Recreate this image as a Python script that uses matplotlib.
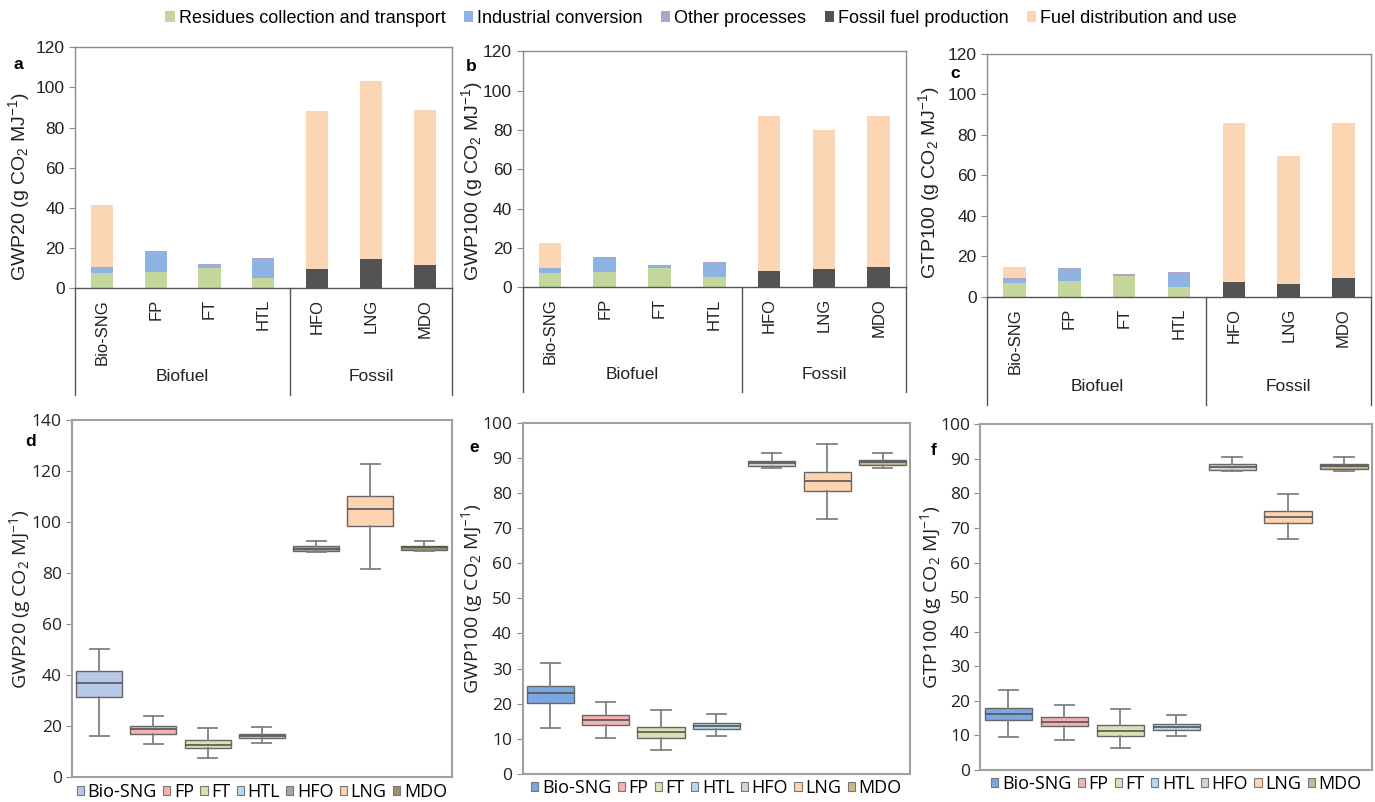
import numpy as np
import matplotlib
matplotlib.use('Agg')
import matplotlib.pyplot as plt
from matplotlib.patches import Patch

plt.rcParams['font.family'] = ['Liberation Sans', 'DejaVu Sans']

# ------------------------------------------------------------
# Data
# ------------------------------------------------------------
cats = ['Bio-SNG', 'FP', 'FT', 'HTL', 'HFO', 'LNG', 'MDO']
stages = ['Residues collection and transport', 'Industrial conversion',
          'Other processes', 'Fossil fuel production', 'Fuel distribution and use']
stage_colors = ['#c3d69b', '#8db3e2', '#b3a2c7', '#535353', '#fcd5b5']

# panel a : GWP20
gwp20_residues   = [7.5, 8.0, 10.0, 5.0, 0, 0, 0]
gwp20_conversion = [2.8, 10.0, 1.5, 9.5, 0, 0, 0]
gwp20_other      = [0.3, 0.3, 0.5, 0.3, 0, 0, 0]
gwp20_fossil     = [0, 0, 0, 0, 9.5, 14.2, 11.5]
gwp20_use        = [30.9, 0, 0, 0, 78.5, 88.8, 77.0]
# panel b : GWP100
gwp100_residues   = [7.0, 7.5, 9.8, 5.0, 0, 0, 0]
gwp100_conversion = [2.5, 7.3, 1.0, 7.3, 0, 0, 0]
gwp100_other      = [0.3, 0.4, 0.4, 0.4, 0, 0, 0]
gwp100_fossil     = [0, 0, 0, 0, 8.0, 9.0, 10.0]
gwp100_use        = [12.7, 0, 0, 0, 79.0, 71.0, 77.0]
# panel c : GTP100
gtp100_residues   = [7.0, 8.0, 10.0, 5.0, 0, 0, 0]
gtp100_conversion = [2.0, 5.5, 0.5, 6.5, 0, 0, 0]
gtp100_other      = [0.3, 0.5, 0.5, 0.5, 0, 0, 0]
gtp100_fossil     = [0, 0, 0, 0, 7.5, 6.5, 9.5]
gtp100_use        = [5.2, 0, 0, 0, 78.5, 63.0, 76.5]

# box plots: whisker low, Q1, median, Q3, whisker high
gwp20_box = [[16.0, 31.4, 36.9, 41.6, 50.4],
             [13.1, 17.0, 18.8, 20.1, 24.1],
             [7.6, 11.3, 12.8, 14.7, 19.4],
             [13.3, 15.2, 16.0, 17.0, 19.8],
             [88.4, 88.8, 89.6, 90.7, 92.8],
             [81.5, 98.5, 105.3, 110.3, 122.7],
             [88.6, 89.2, 90.1, 90.8, 92.8]]
gwp100_box = [[13.0, 20.2, 22.9, 25.1, 31.7],
              [10.1, 13.9, 15.4, 16.8, 20.6],
              [6.9, 10.3, 11.8, 13.5, 18.2],
              [10.9, 12.8, 13.7, 14.6, 17.2],
              [87.1, 87.7, 88.5, 89.1, 91.5],
              [72.7, 80.5, 83.3, 86.0, 93.9],
              [87.2, 87.9, 88.9, 89.5, 91.4]]
gtp100_box = [[9.5, 14.4, 16.3, 17.9, 23.0],
              [8.8, 12.6, 13.8, 15.3, 18.9],
              [6.4, 9.7, 11.2, 12.9, 17.5],
              [9.7, 11.5, 12.4, 13.3, 16.0],
              [86.4, 86.9, 87.7, 88.4, 90.6],
              [66.7, 71.5, 73.3, 74.9, 79.8],
              [86.5, 87.0, 87.9, 88.6, 90.5]]

box_colors_d = ['#b7c9e6', '#f4b3b0', '#d9e2b3', '#b4d9ef', '#a6a6a6', '#fdd3b0', '#9c8f6a']
box_colors_ef = ['#7da7e0', '#f4b3b0', '#d9e2b3', '#b4d9ef', '#d4d4d4', '#fdd3b0', '#c9b88a']

bot_font = 'Open Sans'
spine_col = '#8c8c8c'

fig = plt.figure(figsize=(13.75, 8.02), dpi=100)

# ------------------------------------------------------------
# Top row: stacked bars
# ------------------------------------------------------------
top_pos = [[0.0545, 0.641, 0.274, 0.300],
           [0.380, 0.642, 0.279, 0.294],
           [0.718, 0.630, 0.279, 0.303]]
top_data = [[gwp20_residues, gwp20_conversion, gwp20_other, gwp20_fossil, gwp20_use],
            [gwp100_residues, gwp100_conversion, gwp100_other, gwp100_fossil, gwp100_use],
            [gtp100_residues, gtp100_conversion, gtp100_other, gtp100_fossil, gtp100_use]]
ylabels = [r'GWP20 (g CO$\mathregular{_2}$ MJ$\mathregular{^{-1}}$)',
           r'GWP100 (g CO$\mathregular{_2}$ MJ$\mathregular{^{-1}}$)',
           r'GTP100 (g CO$\mathregular{_2}$ MJ$\mathregular{^{-1}}$)']
top_letters = ['a', 'b', 'c']
letter_xy_top = [(-0.15, 0.93), (-0.135, 0.935), (-0.083, 0.92)]
ylab_xy_top = [(-0.114, 0.42), (-0.097, 0.45), (-0.117, 0.47)]

x = np.arange(len(cats))
for i in range(3):
    ax = fig.add_axes(top_pos[i])
    bottom = np.zeros(len(cats))
    for vals, col in zip(top_data[i], stage_colors):
        ax.bar(x, vals, width=0.41, bottom=bottom, color=col, edgecolor='none')
        bottom += np.array(vals)
    ax.set_xlim(-0.5, 6.5)
    ax.set_ylim(0, 120)
    ax.set_yticks(np.arange(0, 121, 20))
    ax.set_xticks(x)
    ax.set_xticklabels(cats, rotation=90, va='top', ha='center',
                       fontsize=12, color='#222222')
    ax.tick_params(axis='x', length=0, pad=8)
    ax.tick_params(axis='y', labelsize=12.5, length=4, color=spine_col, labelcolor='#222222')
    for s in ax.spines.values():
        s.set_color(spine_col)
        s.set_linewidth(1.0)
    ax.spines['bottom'].set_color('#555555')
    ax.set_ylabel(ylabels[i], fontsize=14, color='#222222')
    ax.yaxis.set_label_coords(*ylab_xy_top[i])
    # group frame below the axis
    low = -0.445
    tr = ax.get_xaxis_transform()
    for xv in [-0.5, 3.5, 6.5]:
        ax.plot([xv, xv], [0, low], transform=tr, color='#555555', lw=1.0, clip_on=False)
    ax.text(1.5, -0.37, 'Biofuel', transform=tr, ha='center', va='center',
            fontsize=12.5, color='#222222')
    ax.text(5.0, -0.37, 'Fossil', transform=tr, ha='center', va='center',
            fontsize=12.5, color='#222222')
    ax.text(letter_xy_top[i][0], letter_xy_top[i][1], top_letters[i], transform=ax.transAxes,
            fontsize=12.5, fontweight='bold', ha='center', va='center')

handles = [Patch(facecolor=c, edgecolor='none', label=l) for c, l in zip(stage_colors, stages)]
fig.legend(handles=handles, loc='center', bbox_to_anchor=(0.51, 0.977), ncol=5,
           frameon=False, handlelength=0.5, handleheight=0.5, handletextpad=0.25,
           columnspacing=1.0, prop={'size': 13})

# ------------------------------------------------------------
# Bottom row: box plots
# ------------------------------------------------------------
bot_pos = [[0.0524, 0.031, 0.276, 0.445],
           [0.380, 0.035, 0.282, 0.438],
           [0.713, 0.040, 0.285, 0.431]]
bot_data = [gwp20_box, gwp100_box, gtp100_box]
bot_colors = [box_colors_d, box_colors_ef, box_colors_ef]
bot_ylim = [140, 100, 100]
bot_step = [20, 10, 10]
bot_letters = ['d', 'e', 'f']
letter_xy_bot = [(-0.11, 0.94), (-0.124, 0.93), (-0.12, 0.925)]
ylab_x_bot = [-0.103, -0.098, -0.094]

for i in range(3):
    ax = fig.add_axes(bot_pos[i])
    stats = []
    for name, (lo, q1, med, q3, hi) in zip(cats, bot_data[i]):
        stats.append({'label': name, 'whislo': lo, 'q1': q1, 'med': med,
                      'q3': q3, 'whishi': hi, 'fliers': []})
    bp = ax.bxp(stats, positions=np.arange(1, 8), widths=0.85, patch_artist=True,
                showfliers=False, capwidths=0.35,
                medianprops={'color': '#555555', 'lw': 1.2},
                whiskerprops={'color': '#808080', 'lw': 1.3},
                capprops={'color': '#808080', 'lw': 1.3},
                boxprops={'edgecolor': '#666666', 'lw': 1.0})
    for patch, col in zip(bp['boxes'], bot_colors[i]):
        patch.set_facecolor(col)
    ax.set_xlim(0.5, 7.5)
    ax.set_ylim(0, bot_ylim[i])
    ax.set_yticks(np.arange(0, bot_ylim[i] + 1, bot_step[i]))
    ax.set_xticks([])
    ax.tick_params(axis='y', labelsize=12.5, length=4, color=spine_col, labelcolor='#222222')
    for lab in ax.get_yticklabels():
        lab.set_family(bot_font)
    for s in ax.spines.values():
        s.set_color('#a0a0a0')
        s.set_linewidth(1.5)
    ax.set_ylabel(ylabels[i], fontsize=14, family=bot_font, color='#222222')
    ax.yaxis.set_label_coords(ylab_x_bot[i], 0.5)
    ax.text(letter_xy_bot[i][0], letter_xy_bot[i][1], bot_letters[i], transform=ax.transAxes,
            fontsize=12.5, fontweight='bold', ha='center', va='center')
    lh = [Patch(facecolor=c, edgecolor='#777777', lw=0.8, label=n)
          for c, n in zip(bot_colors[i], cats)]
    ax.legend(handles=lh, loc='upper center', bbox_to_anchor=(0.5, 0.0), ncol=7,
              frameon=False, handlelength=0.4, handleheight=0.4, handletextpad=0.2,
              columnspacing=0.35, borderaxespad=0.1, borderpad=0.2,
              prop={'family': bot_font, 'size': 13})

fig.savefig('out.png', dpi=100)
